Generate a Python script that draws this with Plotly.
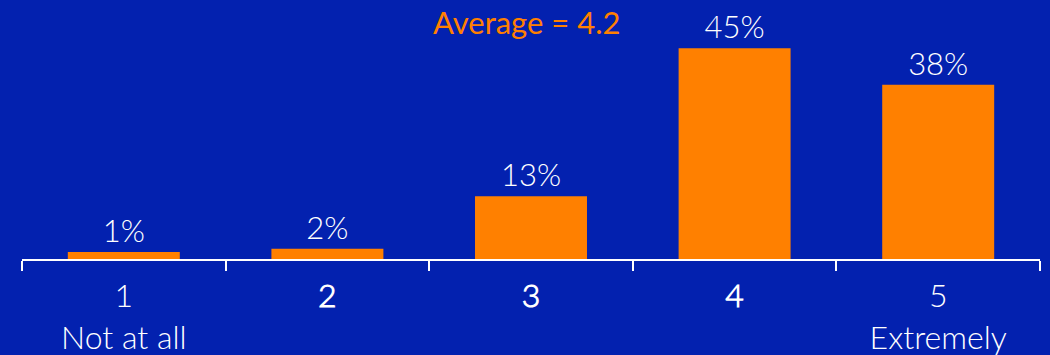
import plotly.graph_objects as go

categories = ["1", "2", "3", "4", "5"]
tick_labels = ["1<br>Not at all", "<span style='font-weight:600'>2</span>",
               "<span style='font-weight:600'>3</span>",
               "<span style='font-weight:600'>4</span>", "5<br>Extremely"]
values = [1.5, 2.2, 13.5, 45.3, 37.5]
value_labels = ["1%", "2%", "13%", "45%", "38%"]
title_text = "Average = 4.2"

BG = "#0321AF"
ORANGE = "#FF8000"
LIGHT = "Lato Light, Lato"

fig = go.Figure(go.Bar(
    x=categories, y=values, text=value_labels, textposition="outside",
    textfont=dict(family=LIGHT, size=31, color="white", weight=300),
    marker=dict(color=ORANGE, line=dict(width=0)), width=0.55,
    cliponaxis=False, hoverinfo="skip",
))

fig.update_layout(
    width=1050, height=355, paper_bgcolor=BG, plot_bgcolor=BG,
    margin=dict(l=22, r=10, t=40, b=96), showlegend=False,
    annotations=[dict(text=title_text, x=0.496, y=1.0, yanchor="bottom", yshift=-3,
                      xref="paper", yref="paper", showarrow=False,
                      font=dict(family="Lato", size=31, color=ORANGE))],
)
fig.update_xaxes(
    type="category", range=[-0.5, 4.5], tickson="boundaries", ticks="outside",
    ticklen=10, tickwidth=2, tickcolor="white", showline=True, linecolor="white",
    linewidth=2, showgrid=False, tickmode="array", tickvals=categories, ticktext=tick_labels,
    tickfont=dict(family=LIGHT, size=32, color="white", weight=300),
    ticklabelstandoff=8, automargin=False,
)
fig.update_yaxes(range=[0, 47.1], visible=False, showgrid=False, zeroline=False,
                 automargin=False)

fig.write_html("out.html")
